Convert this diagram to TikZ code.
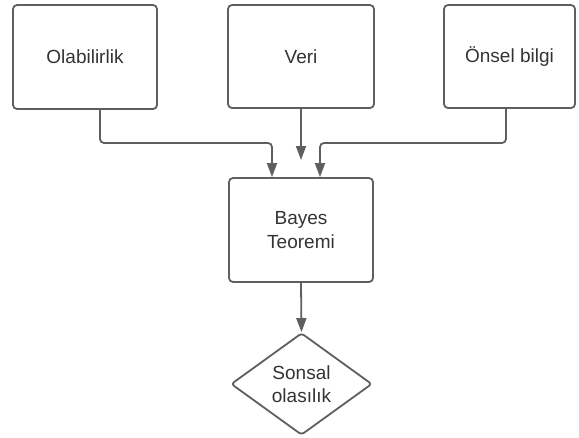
\documentclass[tikz,border=0pt]{standalone}
\usepackage{fontspec}
\setmainfont{Liberation Sans}
\usetikzlibrary{shapes.geometric,arrows.meta}
\definecolor{linec}{RGB}{95,95,95}
\definecolor{textc}{RGB}{51,51,51}
\tikzset{
  box/.style={draw=linec, line width=1.8pt, rounded corners=4pt, fill=white,
    text=textc, font=\fontsize{19}{24}\selectfont, align=center, inner sep=0pt},
  dia/.style={draw=linec, line width=1.8pt, diamond, rounded corners=3pt, fill=white, text=textc,
    font=\fontsize{19}{23}\selectfont, align=center, inner sep=0pt,
    minimum width=141pt, minimum height=102pt},
  conn/.style={draw=linec, line width=1.8pt, rounded corners=4pt,
    -{Triangle[length=14pt,width=10pt]}},
}
\begin{document}
\begin{tikzpicture}[x=1pt,y=-1pt]
\useasboundingbox (0,0) rectangle (579,437);
\node[box, minimum width=144pt, minimum height=104pt] (ol) at (85,57) {Olabilirlik};
\node[box, minimum width=146pt, minimum height=103pt] (ve) at (301,56.5) {Veri};
\node[box, minimum width=131pt, minimum height=103pt] (on) at (509.5,56.5) {Önsel bilgi};
\node[box, minimum width=144pt, minimum height=104pt] (bay) at (301,230) {Bayes\\Teoremi};
\node[dia] (son) at (301.5,384) {Sonsal\\olasılık};
\coordinate (j1) at (272,143);
\coordinate (j2) at (320,143);
\coordinate (mid) at (301,160);
\draw[conn] ([xshift=15pt]ol.south) |- (j1) -- (j1 |- bay.north);
\draw[conn] ([xshift=-3.5pt]on.south) |- (j2) -- (j2 |- bay.north);
\draw[conn] (ve.south) -- (mid);
\draw[conn] (bay.south) -- (son.north);
\end{tikzpicture}
\end{document}
